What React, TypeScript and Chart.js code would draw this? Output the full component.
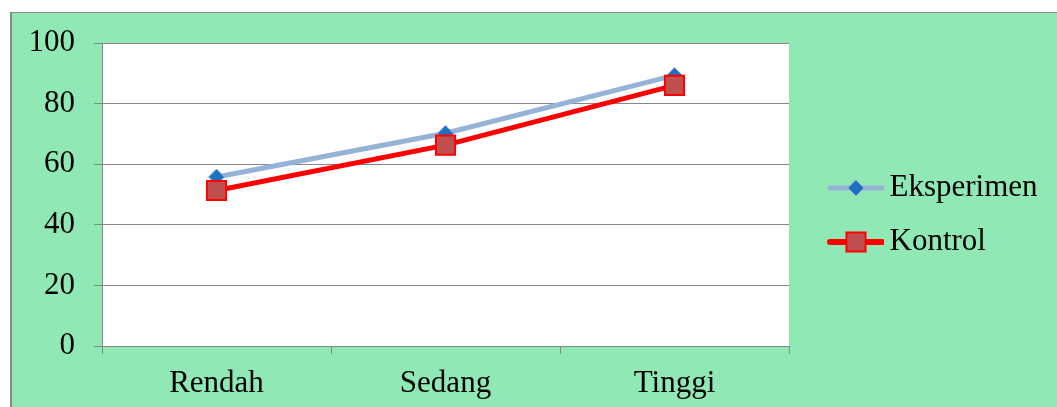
import React, { useEffect, useRef } from 'react';
import { Chart, registerables } from 'chart.js';

Chart.register(...registerables);

// ---- data ----
const categories = ['Rendah', 'Sedang', 'Tinggi'];
const seriesNames = ['Eksperimen', 'Kontrol'];
const eksperimen = [55.8, 70.2, 89.3];
const kontrol = [51.3, 66.3, 86.0];
const yTicks = [0, 20, 40, 60, 80, 100];

// ---- style ----
const W = 1057;
const H = 407;
const FONT = '"Liberation Serif", "Times New Roman", serif';
const FS = 31;
const GREEN = '#90E8B5';
const GRID = '#868686';
const BLUE_LINE = '#95B3D7';
const BLUE_MARK = '#1F70C1';
const RED = '#FF0000';
const RED_FILL = '#C0504D';
const PLOT_LEFT = 102;
const PLOT_RIGHT = 789;
const PLOT_BOTTOM = 346;
const LEG_PAD = 23;
const LEG_BOX = 62;
const LEG_LINE_END = 884;
const LEG_MARK_X = 856;

function makeLegendImage(kind: 'diamond' | 'square'): HTMLCanvasElement {
  const iw = 2 * (LEG_LINE_END - (PLOT_RIGHT + LEG_PAD + LEG_BOX / 2));
  const x0 = LEG_LINE_END - iw;
  const c = document.createElement('canvas');
  c.width = iw;
  c.height = 30;
  const g = c.getContext('2d')!;
  const cy = 15;
  g.lineCap = 'round';
  g.lineWidth = kind === 'diamond' ? 5 : 6;
  g.strokeStyle = kind === 'diamond' ? BLUE_LINE : RED;
  g.beginPath();
  g.moveTo(828 - x0 + 2, cy);
  g.lineTo(iw - 2, cy);
  g.stroke();
  const cx = LEG_MARK_X - x0;
  if (kind === 'diamond') {
    const r = 8;
    g.beginPath();
    g.moveTo(cx, cy - r);
    g.lineTo(cx + r, cy);
    g.lineTo(cx, cy + r);
    g.lineTo(cx - r, cy);
    g.closePath();
    g.fillStyle = BLUE_MARK;
    g.fill();
    g.lineWidth = 1;
    g.strokeStyle = BLUE_LINE;
    g.stroke();
  } else {
    g.fillStyle = RED_FILL;
    g.fillRect(cx - 9.5, cy - 9.5, 19, 19);
    g.lineWidth = 2;
    g.strokeStyle = RED;
    g.strokeRect(cx - 9.5, cy - 9.5, 19, 19);
  }
  return c;
}

const bgPlugin = {
  id: 'bgFrame',
  beforeDraw(chart: any) {
    const { ctx, chartArea: a } = chart;
    ctx.save();
    ctx.fillStyle = '#ffffff';
    ctx.fillRect(0, 0, W, H);
    ctx.fillStyle = GREEN;
    ctx.fillRect(10, 12, W - 10, H - 12);
    ctx.fillStyle = '#8a8a8a';
    ctx.fillRect(10, 12, W - 10, 1);
    ctx.fillRect(10, 12, 2, H - 12);
    ctx.fillStyle = '#ffffff';
    ctx.fillRect(a.left, a.top, a.right - a.left, a.bottom - a.top);
    ctx.restore();
  },
};

export default function App() {
  const ref = useRef<HTMLCanvasElement | null>(null);

  useEffect(() => {
    if (!ref.current) return;
    const measure = document.createElement('canvas').getContext('2d')!;
    measure.font = `${FS}px ${FONT}`;
    const textW = Math.max(...seriesNames.map((s) => measure.measureText(s).width));
    const legendWidth = LEG_PAD + LEG_BOX + FS / 2 + textW + 10;
    const padRight = Math.max(0, W - PLOT_RIGHT - legendWidth);

    const imgs = [makeLegendImage('diamond'), makeLegendImage('square')];

    const chart = new Chart(ref.current, {
      type: 'line',
      data: {
        labels: categories,
        datasets: [
          {
            label: seriesNames[0],
            data: eksperimen,
            borderColor: BLUE_LINE,
            borderWidth: 5,
            backgroundColor: BLUE_MARK,
            pointStyle: 'rectRot',
            pointRadius: 8,
            pointHoverRadius: 8,
            pointBackgroundColor: BLUE_MARK,
            pointBorderColor: BLUE_LINE,
            pointBorderWidth: 1,
            tension: 0,
            order: 1,
          },
          {
            label: seriesNames[1],
            data: kontrol,
            borderColor: RED,
            borderWidth: 5,
            backgroundColor: RED_FILL,
            pointStyle: 'rect',
            pointRadius: 13.5,
            pointHoverRadius: 13.5,
            pointBackgroundColor: RED_FILL,
            pointBorderColor: RED,
            pointBorderWidth: 2,
            tension: 0,
            order: 0,
          },
        ],
      },
      options: {
        responsive: false,
        animation: false,
        devicePixelRatio: 1,
        layout: { padding: { left: 0, top: 23, right: padRight, bottom: 0 } },
        plugins: {
          tooltip: { enabled: false },
          legend: {
            display: true,
            position: 'right',
            align: 'center',
            labels: {
              usePointStyle: true,
              pointStyleWidth: LEG_BOX,
              padding: LEG_PAD,
              color: '#000000',
              font: { family: FONT, size: FS },
              generateLabels: () =>
                seriesNames.map((name, i) => ({
                  text: name,
                  pointStyle: imgs[i] as any,
                  fillStyle: i === 0 ? BLUE_MARK : RED_FILL,
                  strokeStyle: i === 0 ? BLUE_LINE : RED,
                  lineWidth: 0,
                  hidden: false,
                  datasetIndex: i,
                  fontColor: '#000000',
                })),
            },
          },
        },
        scales: {
          x: {
            type: 'category',
            offset: true,
            afterFit: (s: any) => {
              s.height = H - PLOT_BOTTOM;
            },
            grid: {
              display: true,
              offset: true,
              drawOnChartArea: false,
              drawTicks: true,
              tickLength: 8,
              color: GRID,
              lineWidth: 1,
            },
            border: { display: true, color: GRID, width: 1 },
            ticks: {
              color: '#000000',
              font: { family: FONT, size: FS, lineHeight: '47px' },
              padding: 6,
              maxRotation: 0,
              autoSkip: false,
            },
          },
          y: {
            type: 'linear',
            min: 0,
            max: 100,
            afterBuildTicks: (s: any) => {
              s.ticks = yTicks.map((v) => ({ value: v }));
            },
            afterFit: (s: any) => {
              s.width = PLOT_LEFT;
            },
            grid: {
              display: true,
              drawTicks: true,
              tickLength: 8,
              color: GRID,
              lineWidth: 1,
            },
            border: { display: true, color: GRID, width: 1 },
            ticks: {
              color: '#000000',
              font: { family: FONT, size: FS, lineHeight: '48px' },
              padding: 19,
            },
          },
        },
      },
      plugins: [bgPlugin],
    });
    return () => chart.destroy();
  }, []);

  return (
    <div style={{ position: 'absolute', left: 0, top: 0, width: W, height: H }}>
      <canvas ref={ref} width={W} height={H} style={{ display: 'block', width: W, height: H }} />
    </div>
  );
}
